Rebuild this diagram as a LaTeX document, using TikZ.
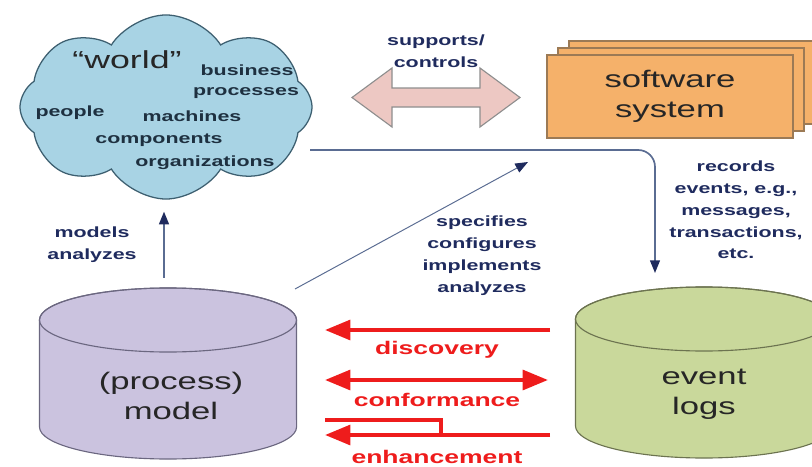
\documentclass[tikz,border=0pt]{standalone}
\usepackage{fontspec}
\setmainfont{Liberation Sans}[FakeStretch=1.45]
\usetikzlibrary{shapes.symbols,arrows.meta}

\definecolor{navy}{HTML}{1F2B5E}
\definecolor{navyline}{HTML}{5A6C92}
\definecolor{inkdark}{HTML}{262626}
\definecolor{cloudink}{HTML}{1E3040}
\definecolor{cloudfill}{HTML}{A8D3E4}
\definecolor{clouddraw}{HTML}{3D5F70}
\definecolor{modelfill}{HTML}{CBC3DF}
\definecolor{modeldraw}{HTML}{6B6780}
\definecolor{logsfill}{HTML}{C9D89B}
\definecolor{logsdraw}{HTML}{6C7350}
\definecolor{swfill}{HTML}{F5B16A}
\definecolor{swdraw}{HTML}{9C7A55}
\definecolor{pinkfill}{HTML}{EDC8C3}
\definecolor{pinkdraw}{HTML}{8E8E8E}
\definecolor{minered}{HTML}{EE1C1C}

% database drum: centre x, centre y, fill, draw
\newcommand{\database}[4]{%
  \filldraw[fill=#3, draw=#4, line width=0.8pt] (#1-128.5,#2-53.5) -- (#1-128.5,#2+53.5)
    arc[start angle=180, end angle=360, x radius=3.2125cm, y radius=0.8cm]
    -- (#1+128.5,#2-53.5)
    arc[start angle=0, end angle=180, x radius=3.2125cm, y radius=0.8cm] -- cycle;
  \draw[draw=#4, line width=0.8pt] (#1,#2-53.5) ellipse [x radius=3.2125cm, y radius=0.8cm];
}

\begin{document}
\begin{tikzpicture}[x=0.025cm, y=-0.025cm,
  bigtext/.style={font=\fontsize{17}{21}\selectfont, text=inkdark, align=center},
  cloudtext/.style={font=\bfseries\fontsize{10.5}{14}\selectfont, text=cloudink},
  navytext/.style={font=\bfseries\fontsize{10.5}{15.5}\selectfont, text=navy, align=center},
  redtext/.style={font=\bfseries\fontsize{13}{15}\selectfont, text=minered},
  navyarrow/.style={draw=navyline, line width=1.2pt, -{Triangle[length=9pt,width=7pt,color=navy]}},
  redline/.style={draw=minered, line width=2.8pt},
  swbox/.style={draw=swdraw, fill=swfill, line width=0.8pt, minimum width=6.15cm, minimum height=2.075cm}
]
\useasboundingbox (0,0) rectangle (812,467);

% the world
\node[cloud, cloud puffs=8, cloud puff arc=115, draw=clouddraw, fill=cloudfill, line width=0.9pt,
  minimum width=7.3cm, minimum height=4.6cm] (cloud) at (166,107) {};
\node[font=\fontsize{17.5}{20}\selectfont, text=inkdark] (world) at (127,60) {“world”};
\node[cloudtext] (business) at (247,70) {business};
\node[cloudtext] (processes) at (246,93) {processes};
\node[cloudtext] (people) at (70,113) {people};
\node[cloudtext] (machines) at (192,116) {machines};
\node[cloudtext] (components) at (159,140) {components};
\node[cloudtext] (organizations) at (205,163) {organizations};

% software system
\node[swbox] (sw3) at (692,82.5) {};
\node[swbox] (sw2) at (681,89.5) {};
\node[swbox, bigtext] (software) at (670,96.5) {software\\system};

% supports / controls
\draw[fill=pinkfill, draw=pinkdraw, line width=0.8pt]
  (352,97.5) -- (392,68) -- (392,88) -- (480,88) -- (480,68) -- (520,97.5)
  -- (480,127) -- (480,107) -- (392,107) -- (392,127) -- cycle;
\node[navytext] (supports) at (436,51) {supports/\\controls};

% databases
\database{168}{373.5}{modelfill}{modeldraw}
\database{704}{372.5}{logsfill}{logsdraw}
\node[bigtext] (model) at (171,396) {(process)\\model};
\node[bigtext] (logs) at (704,394) {event\\logs};
\coordinate (modeltop) at (164,288);

% connectors
\coordinate (recstart) at (310,150);
\coordinate (recend) at (655,273);
\draw[navyarrow, rounded corners=12pt] (recstart) -| (recend);
\node[navytext] (records) at (736,210) {records\\events, e.g.,\\messages,\\transactions,\\etc.};

\coordinate (specstart) at (295,289);
\coordinate (specend) at (528,162);
\draw[navyarrow, line width=0.7pt] (specstart) -- (specend);
\node[navytext] (specifies) at (482,255.5) {specifies\\configures\\implements\\analyzes};

\draw[navyarrow, shorten <=0.25cm, shorten >=0.3cm] (modeltop) -- (modeltop |- cloud.south);
\node[navytext] (models) at (92,245) {models\\analyzes};

% process mining
\coordinate (discR) at (550,330);
\coordinate (discL) at (325,330);
\coordinate (confR) at (548,380);
\coordinate (confL) at (325,380);
\coordinate (enhR) at (550,435);
\coordinate (enhL) at (325,435);
\coordinate (enhtop) at (325,420);
\coordinate (enhjoin) at (441,435);
\draw[redline, -{Triangle[length=18pt,width=14pt]}] (discR) -- (discL);
\draw[redline, {Triangle[length=18pt,width=14pt]}-{Triangle[length=18pt,width=14pt]}] (confL) -- (confR);
\draw[redline, -{Triangle[length=18pt,width=14pt]}] (enhR) -- (enhL);
\draw[redline] (enhtop) -| (enhjoin);
\node[redtext] (discovery) at (437,350) {discovery};
\node[redtext] (conformance) at (437,400) {conformance};
\node[redtext] (enhancement) at (437,457) {enhancement};
\end{tikzpicture}
\end{document}
